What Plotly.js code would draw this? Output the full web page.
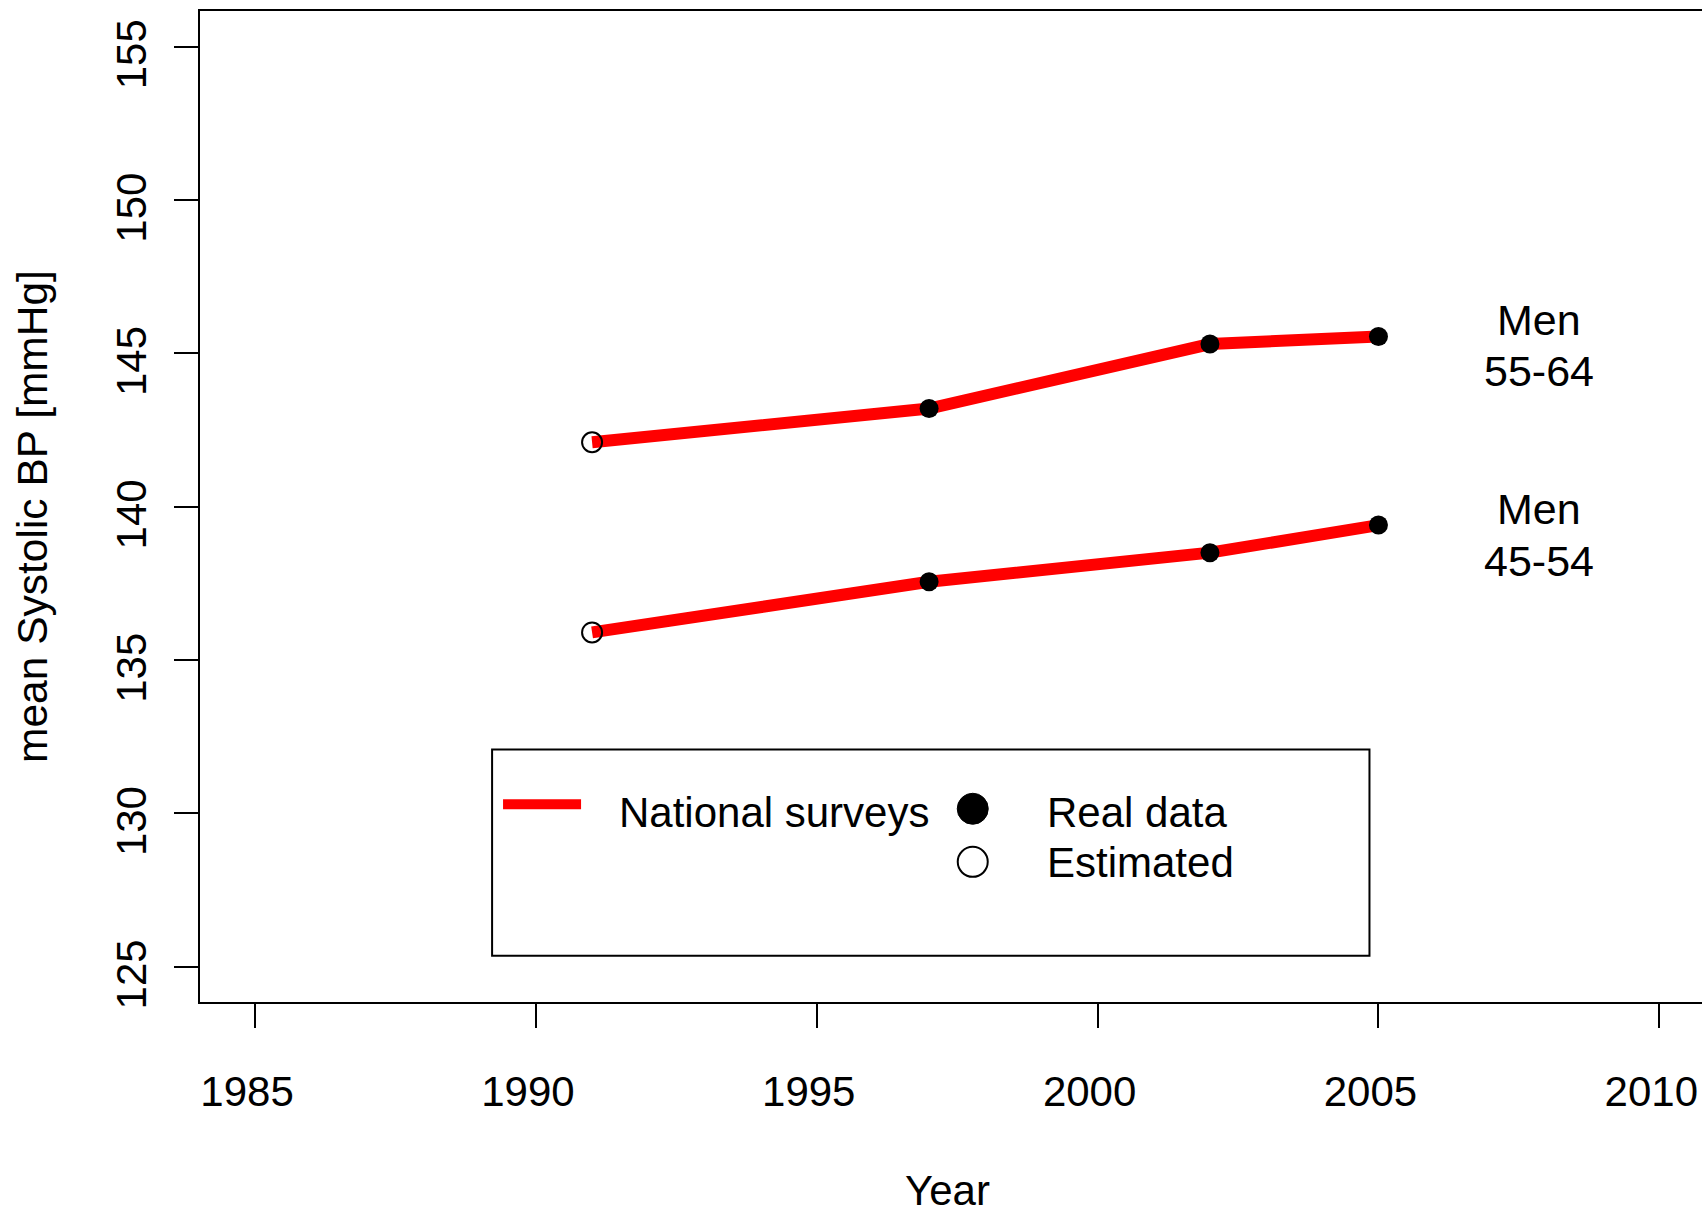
<!DOCTYPE html>
<html>
<head>
<meta charset="utf-8">
<script src="https://cdn.plot.ly/plotly-3.0.1.min.js"></script>
<style>
  html, body { margin: 0; padding: 0; background: #ffffff; }
  #chart { width: 1702px; height: 1213px; }
</style>
</head>
<body>
<div id="chart"></div>
<script>
// ---- data ----
const years = [1991, 1997, 2002, 2005];
const status = ["Estimated", "Real data", "Real data", "Real data"];
const men5564 = [142.1, 143.2, 145.3, 145.55];
const men4554 = [135.9, 137.55, 138.5, 139.4];
const groupLabelLines = [["Men", "55-64"], ["Men", "45-54"]];
const xTicks = [1985, 1990, 1995, 2000, 2005, 2010];
const yTicks = [125, 130, 135, 140, 145, 150, 155];
const legendLineLabel = "National surveys";
const legendPointLabels = ["Real data", "Estimated"];
const xTitle = "Year";
const yTitle = "mean Systolic BP [mmHg]";

// ---- styling ----
const FONT = "Liberation Sans, Arial, Helvetica, sans-serif";
const RED = "#ff0000";

function pick(arr, want) {
  const out = [];
  arr.forEach((v, i) => { if (status[i] === want) out.push(v); });
  return out;
}

const traces = [];
[men5564, men4554].forEach((series, gi) => {
  traces.push({
    type: "scatter", mode: "lines", x: years, y: series,
    line: { color: RED, width: 12 }, showlegend: false, hoverinfo: "skip",
    name: groupLabelLines[gi].join(" ")
  });
  traces.push({
    type: "scatter", mode: "markers", x: pick(years, "Real data"), y: pick(series, "Real data"),
    marker: { symbol: "circle", size: 19, color: "#000000", line: { width: 0 } },
    showlegend: false, hoverinfo: "skip"
  });
  traces.push({
    type: "scatter", mode: "markers", x: pick(years, "Estimated"), y: pick(series, "Estimated"),
    marker: { symbol: "circle-open", size: 20, color: "#000000", line: { width: 2, color: "#000000" } },
    showlegend: false, hoverinfo: "skip"
  });
});

// annotation anchors for the group labels (cap-middle of each line)
const groupLabelY = [[146.095, 144.422], [139.935, 138.216]];
const groupAnnotations = [];
groupLabelLines.forEach((lines, gi) => {
  lines.forEach((t, li) => {
    groupAnnotations.push({
      text: t, xref: "x", yref: "y", x: 2007.86, y: groupLabelY[gi][li], showarrow: false,
      xanchor: "center", yanchor: "middle", font: { family: FONT, size: 43, color: "#000000" }
    });
  });
});

const layout = {
  width: 1702, height: 1213,
  margin: { l: 200, r: 0, t: 11, b: 211, pad: 0 },
  paper_bgcolor: "#ffffff", plot_bgcolor: "#ffffff",
  showlegend: false,
  font: { family: FONT, size: 42, color: "#000000" },
  xaxis: {
    range: [1984.02, 2010.76], tickmode: "array", tickvals: xTicks, ticktext: xTicks.map(String),
    ticks: "outside", ticklen: 24, tickwidth: 2, tickcolor: "#000000",
    showline: true, linewidth: 2, linecolor: "#000000", mirror: true,
    showgrid: false, zeroline: false,
    tickfont: { family: FONT, size: 42, color: "#000000" },
    ticklabelstandoff: 28, ticklabelshift: -8, ticklabeloverflow: "allow"
  },
  yaxis: {
    range: [123.85, 156.16], tickmode: "array", tickvals: yTicks, ticktext: yTicks.map(String),
    tickangle: -90,
    ticks: "outside", ticklen: 24, tickwidth: 2, tickcolor: "#000000",
    showline: true, linewidth: 2, linecolor: "#000000", mirror: true,
    showgrid: false, zeroline: false,
    tickfont: { family: FONT, size: 42, color: "#000000" },
    ticklabelstandoff: 11, ticklabelshift: 14, ticklabeloverflow: "allow"
  },
  shapes: [
    // legend box
    { type: "rect", xref: "x", yref: "y", x0: 1989.22, x1: 2004.84, y0: 125.36, y1: 132.08,
      line: { color: "#000000", width: 2 }, fillcolor: "rgba(0,0,0,0)" },
    // legend line sample
    { type: "line", xref: "x", yref: "y", x0: 1989.415, x1: 1990.804, y0: 130.30, y1: 130.30,
      line: { color: RED, width: 10 } },
    // legend filled circle
    { type: "circle", xref: "x", yref: "y", xsizemode: "pixel", ysizemode: "pixel",
      xanchor: 1997.777, yanchor: 130.15, x0: -15.5, x1: 15.5, y0: -15.5, y1: 15.5,
      fillcolor: "#000000", line: { color: "#000000", width: 1 } },
    // legend open circle
    { type: "circle", xref: "x", yref: "y", xsizemode: "pixel", ysizemode: "pixel",
      xanchor: 1997.777, yanchor: 128.42, x0: -15, x1: 15, y0: -15, y1: 15,
      fillcolor: "rgba(0,0,0,0)", line: { color: "#000000", width: 2 } }
  ],
  annotations: groupAnnotations.concat([
    { text: legendLineLabel, xref: "x", yref: "y", x: 1991.44, y: 130.04, showarrow: false,
      xanchor: "left", yanchor: "middle", font: { family: FONT, size: 42, color: "#000000" } },
    { text: legendPointLabels[0], xref: "x", yref: "y", x: 1999.06, y: 130.04, showarrow: false,
      xanchor: "left", yanchor: "middle", font: { family: FONT, size: 42, color: "#000000" } },
    { text: legendPointLabels[1], xref: "x", yref: "y", x: 1999.06, y: 128.41, showarrow: false,
      xanchor: "left", yanchor: "middle", font: { family: FONT, size: 42, color: "#000000" } },
    { text: xTitle, xref: "paper", yref: "paper", x: 0.4977, y: -0.19, showarrow: false,
      xanchor: "center", yanchor: "middle", font: { family: FONT, size: 42, color: "#000000" } },
    { text: yTitle, xref: "paper", yref: "paper", x: -0.1119, y: 0.4904, showarrow: false,
      textangle: -90, xanchor: "center", yanchor: "middle",
      font: { family: FONT, size: 42.5, color: "#000000" } }
  ])
};

Plotly.newPlot("chart", traces, layout, { displayModeBar: false, staticPlot: true });
</script>
</body>
</html>
